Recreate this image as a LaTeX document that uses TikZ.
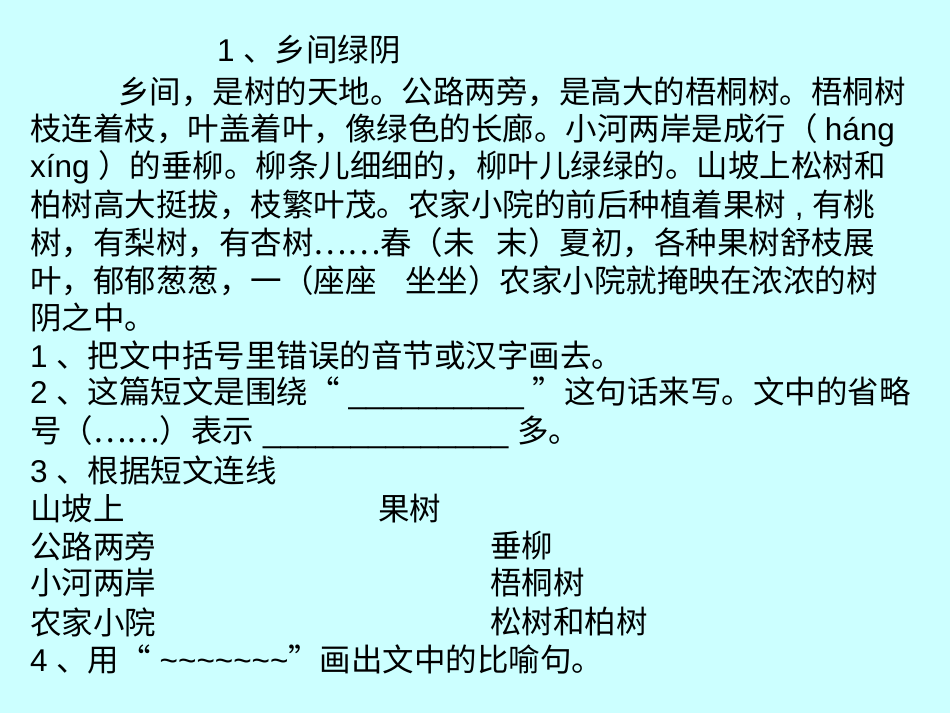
\documentclass[tikz,border=0pt]{standalone}
\usepackage{fontspec}
\setmainfont{Noto Sans CJK SC}
\newfontfamily\lat{Liberation Sans}
\definecolor{bgc}{RGB}{204,255,255}
\begin{document}
\begin{tikzpicture}[x=1pt,y=-1pt,
  ln/.style={anchor=west,inner sep=0pt,font=\fontsize{31.5}{34}\selectfont}]
\fill[bgc] (0,0) rectangle (950,713);
\useasboundingbox (0,0) rectangle (950,713);
\node[ln] (t0) at (217,50) {{\lat 1 }、乡间绿阴};
\node[ln] (t1) at (118,92) {乡间，是树的天地。公路两旁，是高大的梧桐树。梧桐树};
\node[ln] (t2) at (30,130) {枝连着枝，叶盖着叶，像绿色的长廊。小河两岸是成行（ {\lat háng}};
\node[ln] (t3) at (30,167) {{\lat xíng }）的垂柳。柳条儿细细的，柳叶儿绿绿的。山坡上松树和};
\node[ln] (t4) at (30,205) {柏树高大挺拔，枝繁叶茂。农家小院的前后种植着果树{\lat\ , }有桃};
\node[ln] (t5) at (30,243) {树，有梨树，有杏树……春（未\hspace{0.7em}末）夏初，各种果树舒枝展};
\node[ln] (t6) at (30,281) {叶，郁郁葱葱，一（座座\hspace{0.9em}坐坐）农家小院就掩映在浓浓的树};
\node[ln] (t7) at (30,318) {阴之中。};
\node[ln] (q1) at (30,355) {{\lat 1 }、把文中括号里错误的音节或汉字画去。};
\node[ln] (q2) at (30,393) {{\lat 2 }、这篇短文是围绕“{\lat\ \_\_\_\_\_\_\_\_\_\_\ }”这句话来写。文中的省略};
\node[ln] (q2b) at (30,432) {号（……）表示{\lat\ \_\_\_\_\_\_\_\_\_\_\_\_\_\_\ }多。};
\node[ln] (q3) at (30,470) {{\lat 3 }、根据短文连线};
\node[ln] (a1) at (30,509) {山坡上};
\node[ln] (b1) at (378,509) {果树};
\node[ln] (a2) at (30,546) {公路两旁};
\node[ln] (b2) at (490,546) {垂柳};
\node[ln] (a3) at (30,583) {小河两岸};
\node[ln] (b3) at (490,583) {梧桐树};
\node[ln] (a4) at (30,622) {农家小院};
\node[ln] (b4) at (490,622) {松树和柏树};
\node[ln] (q4) at (30,659) {{\lat 4 }、用“{\lat\ \textasciitilde\textasciitilde\textasciitilde\textasciitilde\textasciitilde\textasciitilde\textasciitilde}”画出文中的比喻句。};
\end{tikzpicture}
\end{document}
